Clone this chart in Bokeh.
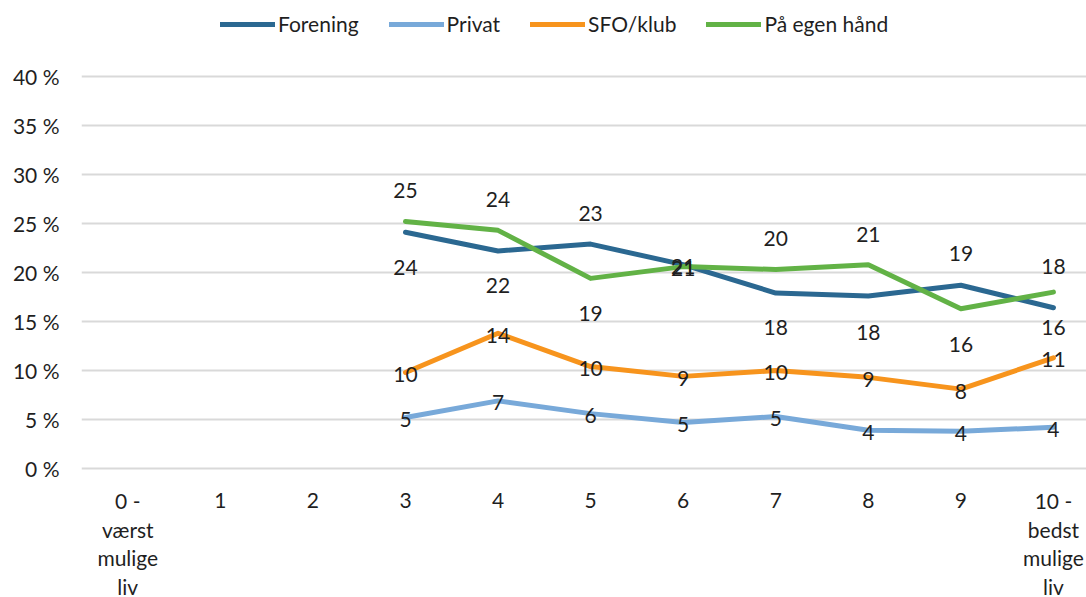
import numpy as np
from bokeh.plotting import figure
from bokeh.models import ColumnDataSource, Range1d, FixedTicker, Legend, LegendItem
from bokeh.core.properties import value
from bokeh.embed import file_html
from bokeh.resources import INLINE

# ---- data ----
categories = [0, 1, 2, 3, 4, 5, 6, 7, 8, 9, 10]
x_tick_labels = ["0 -\nværst\nmulige\nliv", "1", "2", "3", "4", "5", "6", "7", "8", "9",
                 "10 -\nbedst\nmulige\nliv"]
x_points = [3, 4, 5, 6, 7, 8, 9, 10]
forening = [24.1, 22.2, 22.9, 20.8, 17.9, 17.6, 18.7, 16.4]
privat = [5.2, 6.9, 5.6, 4.7, 5.3, 3.9, 3.8, 4.2]
sfo_klub = [9.8, 13.8, 10.4, 9.4, 10.0, 9.3, 8.1, 11.3]
egen_haand = [25.2, 24.3, 19.4, 20.6, 20.3, 20.8, 16.3, 18.0]
series_names = ["Forening", "Privat", "SFO/klub", "På egen hånd"]
y_ticks = [0, 5, 10, 15, 20, 25, 30, 35, 40]
y_tick_labels = ["0 %", "5 %", "10 %", "15 %", "20 %", "25 %", "30 %", "35 %", "40 %"]

# ---- style ----
colors = ["#2B6891", "#78A9D9", "#F7941D", "#62B246"]
# label offsets in screen pixels (positive = down)
label_dy = [
    [35, 35, -31, 2, 34, 36, -32, 20],
    [2, 2, 2, 2, 2, 2, 2, 2],
    [2, 2, 2, 2, 2, 2, 2, 2],
    [-31, -31, 35, 2, -31, -30, 36, -26],
]
FONT = "Lato"
FS = "21px"
TXT = "#1f1f1f"
W, H = 1086, 597
PX_PER_PCT = 9.8
ZERO_PX = 468  # screen row of 0 %
TICK_FIRST_DY = 32
TICK_LINE_GAP = 28.5

p = figure(width=W, height=H, output_backend="svg", toolbar_location=None,
           x_range=Range1d(-0.5, 10.357),
           y_range=Range1d(-(H - ZERO_PX) / PX_PER_PCT, ZERO_PX / PX_PER_PCT),
           x_axis_type=None,
           min_border_left=81, min_border_right=0, min_border_top=0, min_border_bottom=0)
p.outline_line_color = None
p.background_fill_color = "white"

yaxis = p.yaxis[0]
yaxis.ticker = FixedTicker(ticks=y_ticks)
yaxis.major_label_overrides = {t: l for t, l in zip(y_ticks, y_tick_labels)}
yaxis.axis_line_color = None
yaxis.major_tick_line_color = None
yaxis.minor_tick_line_color = None
yaxis.major_tick_out = 0
yaxis.major_tick_in = 0
yaxis.major_label_standoff = 22
yaxis.major_label_text_font = FONT
yaxis.major_label_text_font_size = FS
yaxis.major_label_text_color = TXT

p.ygrid.ticker = FixedTicker(ticks=y_ticks)
p.ygrid.grid_line_color = "#D9D9D9"
p.ygrid.grid_line_width = 2

all_series = [forening, privat, sfo_klub, egen_haand]
renderers = []
for vals, col in zip(all_series, colors):
    r = p.line(x_points, vals, line_color=col, line_width=5, line_join="round", line_cap="round")
    renderers.append(r)

for vals, dys in zip(all_series, label_dy):
    src = ColumnDataSource(dict(x=x_points, y=vals, dy=dys,
                                t=[str(int(np.floor(v + 0.5))) for v in vals]))
    p.text(x="x", y="y", text="t", source=src, y_offset="dy",
           text_align="center", text_baseline="middle",
           text_font=value(FONT), text_font_size=FS, text_color=TXT)

# category tick labels below the 0 % line, one row per text line
tx, tt, tdy = [], [], []
for c, lab in zip(categories, x_tick_labels):
    for i, line in enumerate(lab.split("\n")):
        tx.append(c)
        tt.append(line)
        tdy.append(TICK_FIRST_DY + i * TICK_LINE_GAP)
xsrc = ColumnDataSource(dict(x=tx, y=[0] * len(tx), t=tt, dy=tdy))
p.text(x="x", y="y", text="t", source=xsrc, y_offset="dy",
       text_align="center", text_baseline="middle",
       text_font=value(FONT), text_font_size=FS, text_color=TXT)

legend = Legend(items=[LegendItem(label=n, renderers=[r]) for n, r in zip(series_names, renderers)],
                orientation="horizontal", location=(139, 561))
legend.padding = 0
legend.margin = 0
legend.spacing = 30
legend.label_standoff = 3
legend.glyph_width = 55
legend.border_line_color = None
legend.background_fill_alpha = 0
legend.label_text_font = FONT
legend.label_text_font_size = FS
legend.label_text_color = TXT
p.add_layout(legend, "center")

open("out.html", "w").write(file_html(p, INLINE))
